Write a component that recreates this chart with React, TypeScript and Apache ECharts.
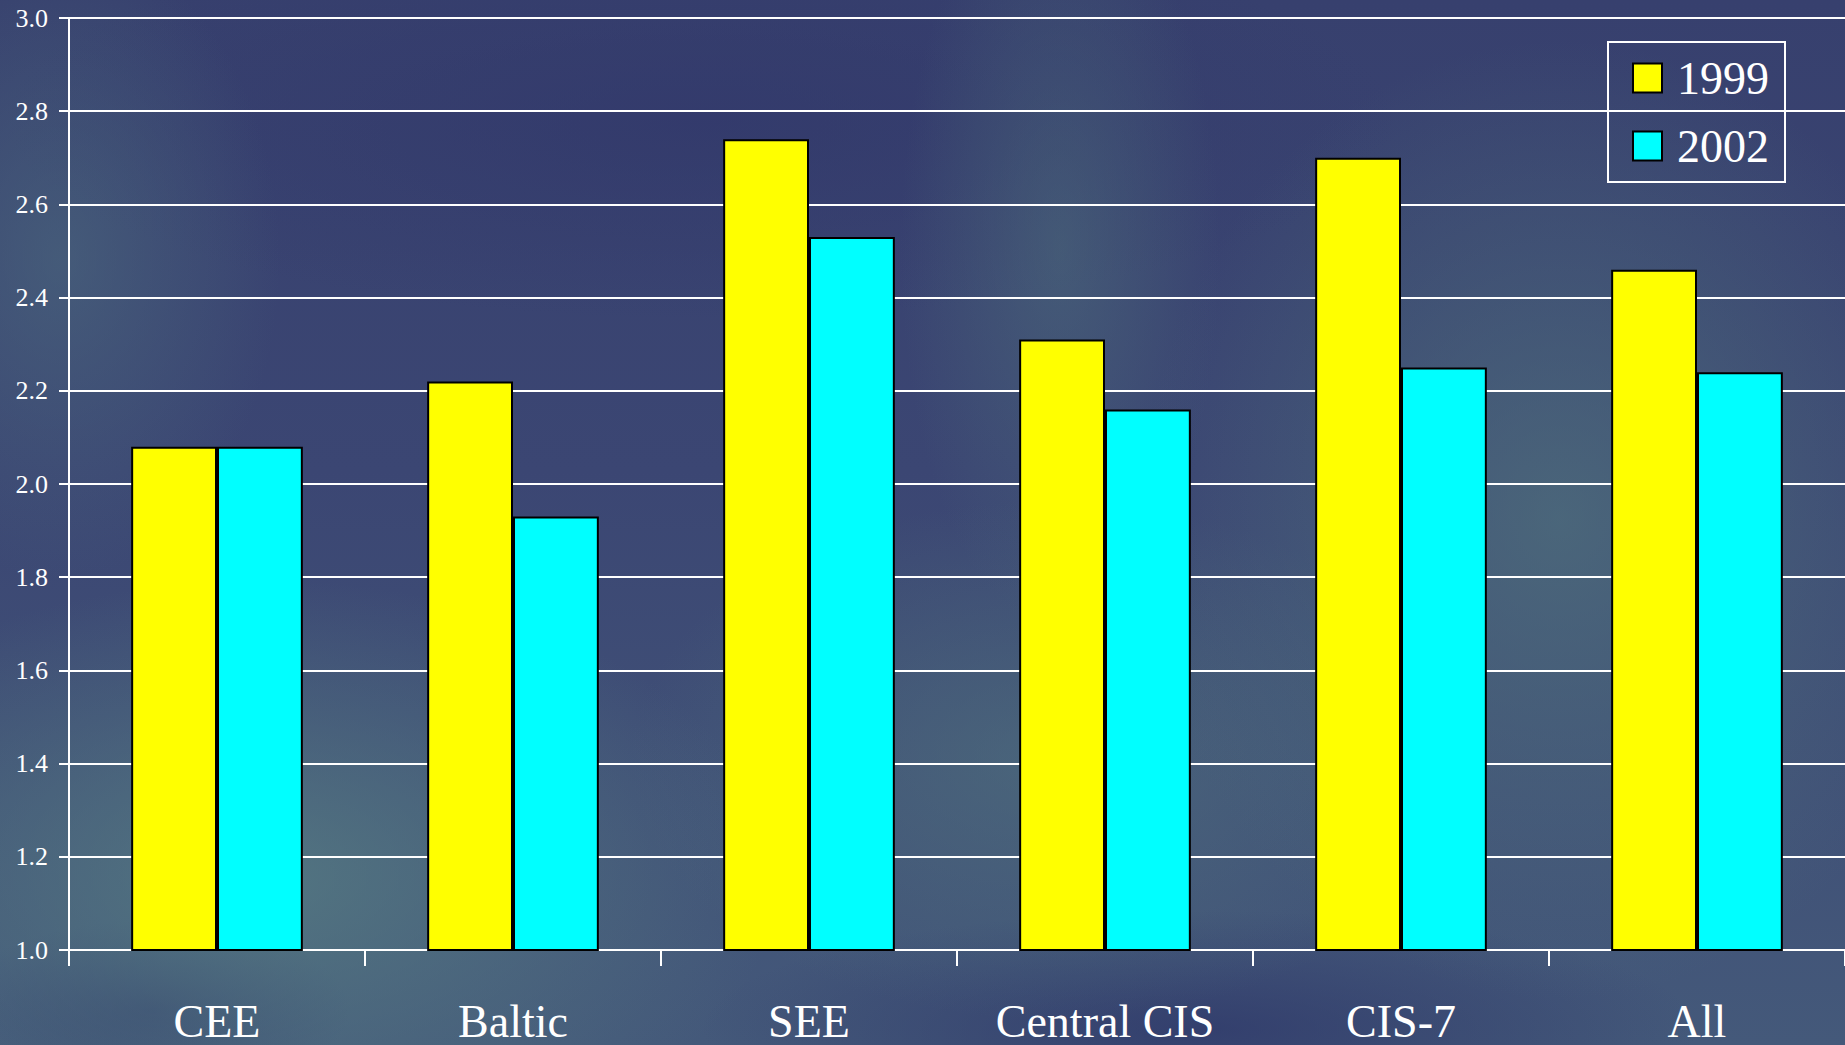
import React, { useEffect, useRef } from "react";
import * as echarts from "echarts";

const categories = ["CEE", "Baltic", "SEE", "Central CIS", "CIS-7", "All"];
const values1999 = [2.08, 2.22, 2.74, 2.31, 2.7, 2.46];
const values2002 = [2.08, 1.93, 2.53, 2.16, 2.25, 2.24];
const seriesNames = ["1999", "2002"];
const yTicks = { min: 1.0, max: 3.0, interval: 0.2 };

const FONT = "Liberation Serif";

const bg = [
  "radial-gradient(ellipse 520px 300px at 260px 880px, rgba(88,128,132,0.75), rgba(88,128,132,0) 100%)",
  "radial-gradient(ellipse 420px 480px at 1560px 520px, rgba(82,118,126,0.65), rgba(82,118,126,0) 100%)",
  "radial-gradient(ellipse 420px 260px at 1050px 760px, rgba(82,118,126,0.55), rgba(82,118,126,0) 100%)",
  "radial-gradient(ellipse 160px 380px at 1060px 250px, rgba(82,118,126,0.45), rgba(82,118,126,0) 100%)",
  "radial-gradient(ellipse 220px 320px at 60px 260px, rgba(78,110,128,0.55), rgba(78,110,128,0) 100%)",
  "radial-gradient(ellipse 500px 120px at 1200px 1030px, rgba(44,52,104,0.7), rgba(44,52,104,0) 100%)",
  "radial-gradient(ellipse 200px 90px at 150px 1010px, rgba(44,52,104,0.6), rgba(44,52,104,0) 100%)",
  "radial-gradient(ellipse 700px 200px at 700px 120px, rgba(48,54,106,0.6), rgba(48,54,106,0) 100%)",
  "linear-gradient(180deg, #37406e 0%, #3b4673 45%, #44597a 100%)",
].join(",");

export default function App() {
  const ref = useRef<HTMLDivElement>(null);

  useEffect(() => {
    if (!ref.current) return;
    const chart = echarts.init(ref.current, undefined, { renderer: "svg" });
    const white = "#ffffff";
    chart.setOption({
      animation: false,
      backgroundColor: "transparent",
      textStyle: { fontFamily: FONT },
      grid: { left: 69, top: 18, right: 0, bottom: 95, containLabel: false },
      legend: {
        orient: "vertical",
        left: 1608,
        top: 42,
        padding: [13, 16, 13, 24],
        itemGap: 22,
        itemWidth: 29,
        itemHeight: 29,
        icon: "rect",
        borderColor: white,
        borderWidth: 2,
        textStyle: {
          color: white,
          fontSize: 46,
          fontFamily: FONT,
          lineHeight: 46,
          padding: [0, 0, 0, 10],
        },
        itemStyle: { borderColor: "#000", borderWidth: 2 },
        data: seriesNames,
      },
      xAxis: {
        type: "category",
        data: categories,
        axisLine: { show: true, lineStyle: { color: white, width: 2 } },
        axisTick: { show: true, length: 16, lineStyle: { color: white, width: 2 } },
        axisLabel: {
          color: white,
          fontSize: 46,
          fontFamily: FONT,
          lineHeight: 46,
          margin: 48,
          interval: 0,
        },
        splitLine: { show: false },
      },
      yAxis: {
        type: "value",
        min: yTicks.min,
        max: yTicks.max,
        interval: yTicks.interval,
        axisLine: { show: true, lineStyle: { color: white, width: 2 } },
        axisTick: { show: true, length: 10, lineStyle: { color: white, width: 2 } },
        axisLabel: {
          color: white,
          fontSize: 26,
          fontFamily: FONT,
          margin: 21,
          formatter: (v: number) => v.toFixed(1),
        },
        splitLine: { show: true, lineStyle: { color: white, width: 2 } },
      },
      series: [
        {
          name: seriesNames[0],
          type: "bar",
          data: values1999,
          barGap: "0%",
          barCategoryGap: "42%",
          itemStyle: { color: "#ffff00", borderColor: "#000000", borderWidth: 2 },
        },
        {
          name: seriesNames[1],
          type: "bar",
          data: values2002,
          barGap: "0%",
          barCategoryGap: "42%",
          itemStyle: { color: "#00ffff", borderColor: "#000000", borderWidth: 2 },
        },
      ],
    });
    return () => chart.dispose();
  }, []);

  return (
    <div
      style={{
        position: "fixed",
        left: 0,
        top: 0,
        width: 1845,
        height: 1045,
        background: bg,
        overflow: "hidden",
      }}
    >
      <div ref={ref} style={{ width: 1845, height: 1045 }} />
    </div>
  );
}
